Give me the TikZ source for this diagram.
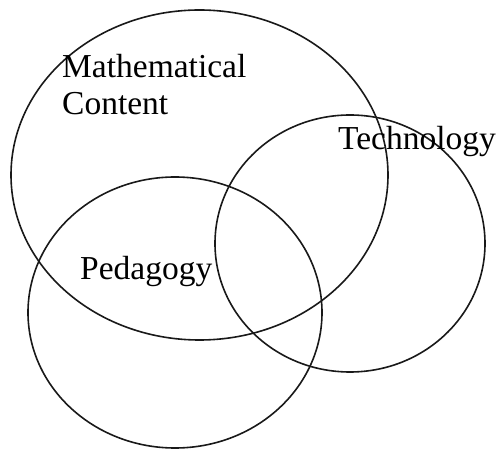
\documentclass[tikz,border=0pt]{standalone}
\usepackage{fontspec}
\setmainfont{Liberation Serif}
\usetikzlibrary{shapes.geometric}
\begin{document}
\begin{tikzpicture}[x=1pt,y=-1pt,
  setring/.style={draw=black!90,line width=1.6pt,ellipse,inner sep=0pt,fill=none},
  lbl/.style={anchor=base west,inner sep=0pt,font=\fontsize{33.5}{37}\selectfont,align=left}]
\useasboundingbox (0,0) rectangle (499,449);
\node[setring,minimum width=377pt,minimum height=330pt] (math) at (199.5,175) {};
\node[setring,minimum width=270pt,minimum height=257pt] (tech) at (350,243.5) {};
\node[setring,minimum width=294pt,minimum height=271pt] (ped) at (175,312.5) {};
\node[lbl] (mathlbl) at (62,78) {Mathematical};
\node[lbl] (contlbl) at (62,115) {Content};
\node[lbl] (techlbl) at (338,150) {Technology};
\node[lbl] (pedlbl) at (80,280) {Pedagogy};
\end{tikzpicture}
\end{document}
